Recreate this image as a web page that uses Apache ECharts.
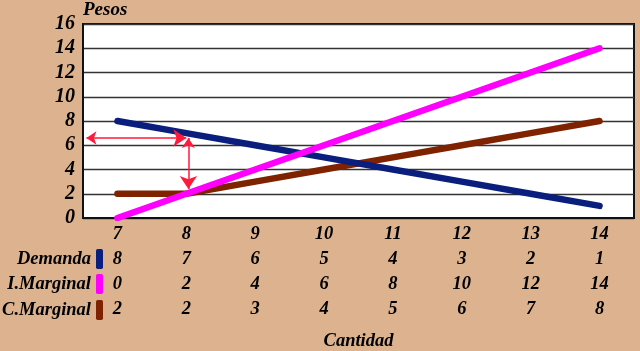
<!DOCTYPE html>
<html><head><meta charset="utf-8">
<script src="https://cdn.jsdelivr.net/npm/echarts@6/dist/echarts.min.js"></script>
<style>html,body{margin:0;padding:0;background:#DDB28F}#c{width:640px;height:351px}</style>
</head><body><div id="c"></div>
<script>
const cantidad = ['7','8','9','10','11','12','13','14'];
const demanda = [8,7,6,5,4,3,2,1];
const iMarginal = [0,2,4,6,8,10,12,14];
const cMarginal = [2,2,3,4,5,6,7,8];
const yTicks = {min:0, max:16, step:2};
const arrowH = [[6.55,6.6],[8.0,6.6]];
const arrowV = [[8.03,6.6],[8.03,2.4]];

const font = {fontFamily:'"Liberation Serif", "Times New Roman", serif', fontStyle:'italic', fontWeight:'bold', color:'#000'};
const chart = echarts.init(document.getElementById('c'));
const legendBase = (name, top) => ({
  data:[name], orient:'vertical', right:537, top:top, padding:0, align:'right',
  icon:'roundRect', itemWidth:7, itemHeight:20, itemGap:0, selectedMode:false,
  textStyle:Object.assign({fontSize:18.5, padding:[0,0,0,0]}, font)
});
chart.setOption({
  backgroundColor:'#DDB28F',
  animation:false,
  grid:{left:83, right:6, top:24, bottom:133, containLabel:false, outerBoundsMode:'none',
        show:true, backgroundColor:'#fff', borderColor:'#111', borderWidth:2},
  legend:[legendBase('Demanda',249), legendBase('I.Marginal',274), legendBase('C.Marginal',300)],
  xAxis:[{
    type:'category', data:cantidad, boundaryGap:true,
    axisLine:{lineStyle:{color:'#111', width:2}}, axisTick:{show:false},
    axisLabel:Object.assign({fontSize:18.5, margin:4, lineHeight:25,
      formatter:(v,i)=>[v, demanda[i], iMarginal[i], cMarginal[i]].join('\n')}, font),
    name:'Cantidad', nameLocation:'middle', nameGap:114,
    nameTextStyle:Object.assign({fontSize:18.5}, font)
  },{
    type:'value', min:6.5, max:14.5, show:false
  }],
  yAxis:{
    type:'value', min:yTicks.min, max:yTicks.max, interval:yTicks.step,
    axisLine:{show:true, lineStyle:{color:'#111', width:2}}, axisTick:{show:false},
    splitLine:{lineStyle:{color:'#333', width:1.3}},
    axisLabel:Object.assign({fontSize:20, margin:8}, font),
    name:'Pesos', nameLocation:'end', nameGap:4,
    nameTextStyle:Object.assign({fontSize:19, align:'left'}, font)
  },
  series:[
    {name:'C.Marginal', type:'line', data:cMarginal, symbol:'none', z:3,
     lineStyle:{color:'#7F2200', width:6.5, cap:'round'}, itemStyle:{color:'#7F2200'}},
    {name:'Demanda', type:'line', data:demanda, symbol:'none', z:4,
     lineStyle:{color:'#0A1E7D', width:6.5, cap:'round'}, itemStyle:{color:'#0A1E7D'}},
    {name:'I.Marginal', type:'line', data:iMarginal, symbol:'none', z:5,
     lineStyle:{color:'#FF00FF', width:6.5, cap:'round'}, itemStyle:{color:'#FF00FF'}},
    {type:'lines', coordinateSystem:'cartesian2d', xAxisIndex:1, yAxisIndex:0, z:6,
     symbol:['arrow','arrow'], symbolSize:[10,13],
     lineStyle:{color:'#FF1A3C', width:1.5, opacity:1},
     data:[{coords:arrowH},{coords:arrowV}]}
  ]
});
</script></body></html>
